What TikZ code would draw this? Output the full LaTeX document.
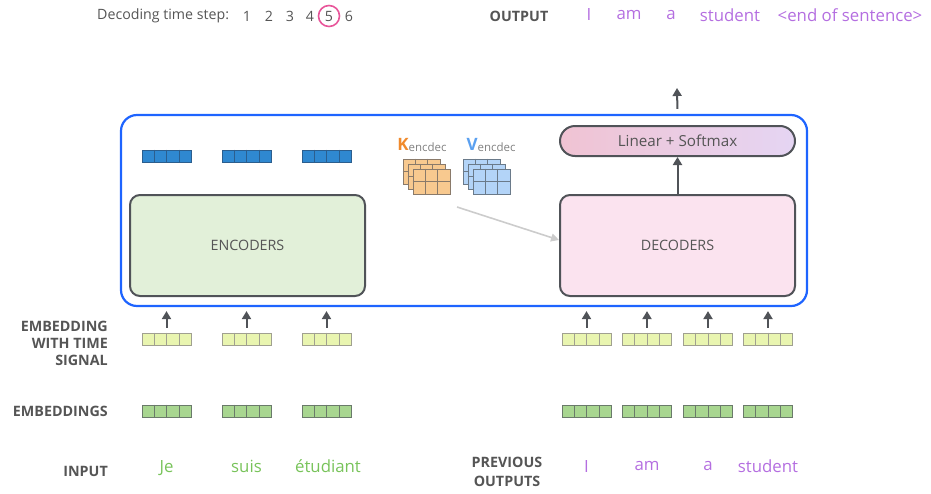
\documentclass[tikz,border=0pt]{standalone}
\usepackage{fontspec}
\setmainfont{Open Sans}
\usetikzlibrary{calc,arrows.meta}
\definecolor{txt}{HTML}{555555}
\definecolor{dk}{HTML}{505358}
\definecolor{outblue}{HTML}{1E64FF}
\definecolor{purp}{HTML}{B46EE0}
\definecolor{grn}{HTML}{78C35A}
\definecolor{pinkc}{HTML}{E8559A}
\definecolor{korange}{HTML}{F08A2C}
\definecolor{vblue}{HTML}{5AA0F0}
\definecolor{encfill}{HTML}{E2F0D9}
\definecolor{decfill}{HTML}{FBE3EF}
\definecolor{softl}{HTML}{F0C3D3}
\definecolor{softr}{HTML}{E5D5F3}
\definecolor{bluefill}{HTML}{2F88D0}
\definecolor{blueline}{HTML}{2B5E8E}
\definecolor{yelfill}{HTML}{E9F5B0}
\definecolor{yelline}{HTML}{A0A090}
\definecolor{grfill}{HTML}{A8D690}
\definecolor{grline}{HTML}{6A7A6A}
\definecolor{kfill}{HTML}{F8C98F}
\definecolor{kline}{HTML}{8A7A6A}
\definecolor{vfill}{HTML}{B3D4F8}
\definecolor{vline}{HTML}{6A7A8A}
\newcommand\cellvec[5]{%
  \node[draw=#5, fill=#4, line width=0.8pt, minimum width=49pt, minimum height=12pt, inner sep=0pt] (#1) at (#2,#3) {};
  \foreach \f in {0.25,0.5,0.75} \draw[#5, line width=0.8pt] ($(#1.north west)!\f!(#1.north east)$) -- ($(#1.south west)!\f!(#1.south east)$);
}
\newcommand\mgrid[5]{%
  \node[draw=#5, fill=#4, line width=0.8pt, minimum width=37pt, minimum height=25pt, inner sep=0pt] (#1) at (#2,#3) {};
  \foreach \f in {0.3333,0.6667} \draw[#5, line width=0.8pt] ($(#1.north west)!\f!(#1.north east)$) -- ($(#1.south west)!\f!(#1.south east)$);
  \draw[#5, line width=0.8pt] (#1.west) -- (#1.east);
}
\tikzset{
  lbl/.style={font=\fontsize{14.3}{17}\selectfont\bfseries, text=txt, align=right, inner sep=0pt},
  word/.style={font=\fontsize{16.8}{20}\selectfont, inner sep=0pt},
  bigbox/.style={draw=dk, line width=2pt, rounded corners=10pt, minimum width=235pt, minimum height=101pt, font=\fontsize{14.3}{16}\selectfont, text=txt},
  arr/.style={draw=dk, line width=2pt, -{Triangle[width=9pt,length=8pt]}},
}
\begin{document}
\begin{tikzpicture}[x=1pt,y=-1pt]
\useasboundingbox (0,0) rectangle (931,493);
% top line
\node[anchor=west, font=\fontsize{14.2}{16}\selectfont, text=txt, inner sep=0pt] (dts) at (97,16) {Decoding time step:};
\foreach \n/\x in {1/247,2/269,3/290,4/310,5/329,6/349}
  \node[font=\fontsize{14.2}{16}\selectfont, text=txt, inner sep=0pt] (d\n) at (\x,16) {\n};
\draw[pinkc, line width=1.6pt] (d5) circle (10.5pt);
\node[font=\fontsize{14.3}{16}\selectfont\bfseries, text=txt, inner sep=0pt] (outl) at (519,16) {OUTPUT};
\foreach \w/\x/\nm in {I/589/o1,am/629/o2,a/671/o3,student/730/o4}
  \node[word, text=purp] (\nm) at (\x,15) {\w};
\node[word, text=purp] (o5) at (850,15) {<end of sentence>};
% outer box
\node[draw=outblue, line width=2.2pt, rounded corners=16pt, minimum width=686pt, minimum height=191pt, inner sep=0pt] (outer) at (464,210.5) {};
% encoders / decoders
\node[bigbox, fill=encfill] (enc) at (247.5,245.5) {ENCODERS};
\node[bigbox, fill=decfill] (dec) at (677.5,245.5) {DECODERS};
\node[draw=dk, line width=2pt, rounded corners=15pt, minimum width=235pt, minimum height=30pt, left color=softl, right color=softr, font=\fontsize{15.2}{17}\selectfont, text=txt] (soft) at (677.5,141) {Linear + Softmax};
\draw[arr] (dec.north) -- (soft.south);
\coordinate (top) at (677,88);
\draw[arr, shorten <=5pt] (outer.north -| soft.north) -- (top);
% encoder output vectors
\cellvec{b1}{166.5}{156}{bluefill}{blueline}
\cellvec{b2}{246.5}{156}{bluefill}{blueline}
\cellvec{b3}{326.5}{156}{bluefill}{blueline}
% K and V
\node[inner sep=0pt] (klab) at (422,145) {\fontsize{17}{18}\selectfont\bfseries\color{korange}K\fontsize{11.5}{12}\selectfont\mdseries\color{gray}\raisebox{-1.5pt}{encdec}};
\node[inner sep=0pt] (vlab) at (491,145) {\fontsize{17}{18}\selectfont\bfseries\color{vblue}V\fontsize{11.5}{12}\selectfont\mdseries\color{gray}\raisebox{-1.5pt}{encdec}};
\mgrid{k1}{421.5}{171.5}{kfill}{kline}
\mgrid{k2}{426.5}{176.5}{kfill}{kline}
\mgrid{k3}{431.5}{181.5}{kfill}{kline}
\mgrid{v1}{481.5}{171.5}{vfill}{vline}
\mgrid{v2}{486.5}{176.5}{vfill}{vline}
\mgrid{v3}{491.5}{181.5}{vfill}{vline}
\coordinate (ga) at (457,207);
\draw[black!20, line width=1.6pt, -{Triangle[width=8pt,length=8pt]}] (ga) -- (dec.west |- 0,240);
% labels
\node[lbl, anchor=east] (lemb) at (108,343.5) {EMBEDDING\\WITH TIME\\SIGNAL};
\node[lbl, anchor=east] (lembs) at (108,411) {EMBEDDINGS};
\node[lbl, anchor=east] (linp) at (108,471) {INPUT};
\node[lbl, align=center, font=\fontsize{14.3}{19}\selectfont\bfseries] (lprev) at (507,471.5) {PREVIOUS\\OUTPUTS};
% encoder input side
\foreach \i/\x in {1/166.5,2/246.5,3/326.5}{
  \cellvec{ye\i}{\x}{339}{yelfill}{yelline}
  \cellvec{ge\i}{\x}{411}{grfill}{grline}
  \draw[arr, shorten <=5pt, shorten >=4pt] (ye\i.north) -- (ye\i.north |- outer.south);
}
\node[word, text=grn] (w1) at (166.5,468) {Je};
\node[word, text=grn] (w2) at (246.5,466) {suis};
\node[word, text=grn] (w3) at (328,466) {étudiant};
% decoder input side
\foreach \i/\x in {1/586.5,2/647,3/708,4/768}{
  \cellvec{yd\i}{\x}{339}{yelfill}{yelline}
  \cellvec{gd\i}{\x}{411.5}{grfill}{grline}
  \draw[arr, shorten <=5pt, shorten >=4pt] (yd\i.north) -- (yd\i.north |- outer.south);
}
\foreach \w/\x/\nm in {I/586.5/p1,am/647/p2,a/708/p3,student/768/p4}
  \node[word, text=purp] (\nm) at (\x,466) {\w};
\end{tikzpicture}
\end{document}
